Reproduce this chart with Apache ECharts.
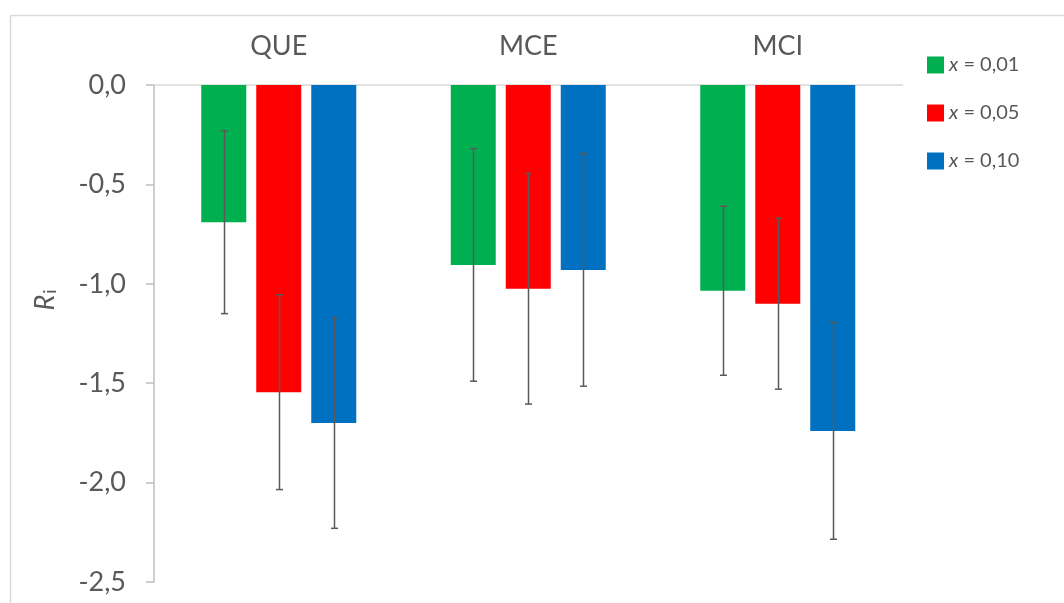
<!DOCTYPE html>
<html>
<head>
<meta charset="utf-8">
<script src="https://cdn.jsdelivr.net/npm/echarts@6/dist/echarts.min.js"></script>
<style>
html,body{margin:0;padding:0;background:#fff;}
#chart{width:1064px;height:603px;}
</style>
</head>
<body>
<div id="chart"></div>
<script>
// ---- data ----
var categories = ['QUE', 'MCE', 'MCI'];
var seriesNames = ['x = 0,01', 'x = 0,05', 'x = 0,10'];
var valuesX001 = [-0.69, -0.905, -1.035];
var valuesX005 = [-1.545, -1.025, -1.10];
var valuesX010 = [-1.70, -0.93, -1.74];
var errX001 = [0.46, 0.585, 0.425];
var errX005 = [0.49, 0.58, 0.43];
var errX010 = [0.53, 0.585, 0.545];
var yTicks = [0, -0.5, -1.0, -1.5, -2.0, -2.5];

// ---- style ----
var colors = ['#00B050', '#FF0000', '#0070C0'];
var FONT = 'Lato, "Open Sans", sans-serif';
var TEXT = '#595959';
var BAR_W = 45, BAR_GAP = 10;

var allValues = [valuesX001, valuesX005, valuesX010];
var allErr = [errX001, errX005, errX010];

var series = [];
allValues.forEach(function (vals, s) {
  series.push({
    name: seriesNames[s],
    type: 'bar',
    data: vals,
    barWidth: BAR_W,
    barGap: (BAR_GAP / BAR_W * 100) + '%',
    itemStyle: { color: colors[s] },
    z: 2
  });
});
allValues.forEach(function (vals, s) {
  var errData = vals.map(function (v, i) { return [i, v - allErr[s][i], v + allErr[s][i]]; });
  series.push({
    name: 'err' + s,
    type: 'custom',
    data: errData,
    encode: { x: 0, y: [1, 2] },
    z: 5,
    silent: true,
    renderItem: (function (sIdx) {
      return function (params, api) {
        var off = (sIdx - 1) * (BAR_W + BAR_GAP);
        var lo = api.coord([api.value(0), api.value(1)]);
        var hi = api.coord([api.value(0), api.value(2)]);
        var x = Math.round(lo[0] + off) + 0.5;
        var cap = 3.5;
        var st = { stroke: '#595959', lineWidth: 1.5 };
        return {
          type: 'group',
          children: [
            { type: 'line', shape: { x1: x, y1: lo[1], x2: x, y2: hi[1] }, style: st },
            { type: 'line', shape: { x1: x - cap, y1: lo[1], x2: x + cap, y2: lo[1] }, style: st },
            { type: 'line', shape: { x1: x - cap, y1: hi[1], x2: x + cap, y2: hi[1] }, style: st }
          ]
        };
      };
    })(s)
  });
});

var chart = echarts.init(document.getElementById('chart'), null, { renderer: 'canvas' });
chart.setOption({
  backgroundColor: '#fff',
  animation: false,
  textStyle: { fontFamily: FONT },
  grid: { left: 154, top: 85, width: 748.5, height: 497, containLabel: false },
  legend: {
    orient: 'vertical',
    left: 927,
    top: 55,
    padding: 0,
    itemWidth: 17,
    itemHeight: 17,
    itemGap: 28,
    icon: 'rect',
    data: seriesNames,
    formatter: function (n) { return '{x|x}{t|' + n.slice(1) + '}'; },
    textStyle: {
      color: TEXT,
      fontSize: 20,
      lineHeight: 17,
      fontFamily: FONT,
      rich: {
        x: { fontStyle: 'italic', fontSize: 20, lineHeight: 17, color: TEXT, fontFamily: FONT },
        t: { fontSize: 20, lineHeight: 17, color: TEXT, fontFamily: FONT }
      }
    }
  },
  xAxis: {
    type: 'category',
    position: 'top',
    data: categories,
    axisLine: { show: true, lineStyle: { color: '#d9d9d9', width: 1.5 } },
    axisTick: { show: false },
    axisLabel: { color: TEXT, fontSize: 27, margin: 25, fontFamily: FONT },
    splitLine: { show: false }
  },
  yAxis: {
    type: 'value',
    min: yTicks[yTicks.length - 1],
    max: yTicks[0],
    interval: 0.5,
    axisLine: { show: true, lineStyle: { color: '#bfbfbf', width: 1.5 } },
    axisTick: { show: true, length: 8, lineStyle: { color: '#bfbfbf', width: 1.5 } },
    axisLabel: {
      color: TEXT, fontSize: 27, margin: 28, fontFamily: FONT,
      formatter: function (v) { return v.toFixed(1).replace('.', ','); }
    },
    splitLine: { show: false }
  },
  graphic: [
    {
      type: 'rect',
      shape: { x: 10.5, y: 15.5, width: 1200, height: 800 },
      style: { fill: 'none', stroke: '#d9d9d9', lineWidth: 1.5 },
      z: -10, silent: true
    },
    {
      type: 'text',
      x: 45, y: 300,
      rotation: Math.PI / 2,
      style: {
        text: '{r|R}{i|i}',
        align: 'center',
        verticalAlign: 'middle',
        rich: {
          r: { fontStyle: 'italic', fontSize: 27, fill: TEXT, fontFamily: FONT },
          i: { fontSize: 18, fill: TEXT, fontFamily: FONT, padding: [11, 0, 0, 1] }
        }
      }
    }
  ],
  series: series
});
</script>
</body>
</html>
